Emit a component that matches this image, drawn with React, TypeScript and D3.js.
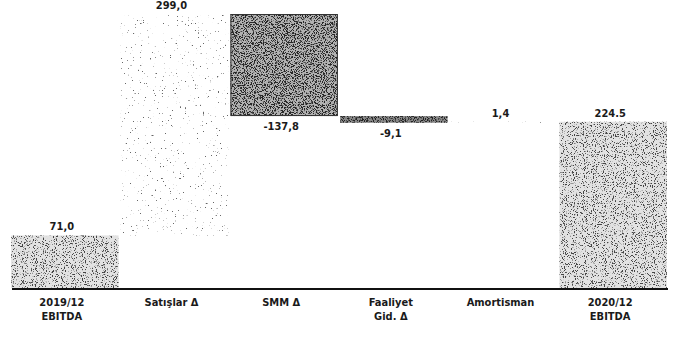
import React from "react";
import * as d3 from "d3";

const categoryLines: string[][] = [
  ["2019/12", "EBITDA"],
  ["Satışlar Δ"],
  ["SMM Δ"],
  ["Faaliyet", "Gid. Δ"],
  ["Amortisman"],
  ["2020/12", "EBITDA"],
];
const values: number[] = [71.0, 299.0, -137.8, -9.1, 1.4, 224.5];
const kinds: string[] = ["total", "delta", "delta", "delta", "delta", "total"];
const valueLabels: string[] = ["71,0", "299,0", "-137,8", "-9,1", "1,4", "224.5"];
const textures: string[] = ["mid", "sparse", "dark", "line", "sparse", "mid"];

const W = 685;
const H = 340;
const FONT = "'Liberation Sans Narrow', 'DejaVu Sans Condensed', 'Roboto', sans-serif";

function Speckle({ id, seed, base, dot, k, t, freq }: { id: string; seed: number; base: string; dot: string; k: number; t: number; freq: number }) {
  const c = d3.color(dot)!.rgb();
  const r = c.r / 255, g = c.g / 255, b = c.b / 255;
  return (
    <filter id={id} x="0" y="0" width="1" height="1" filterUnits="objectBoundingBox" colorInterpolationFilters="sRGB">
      <feFlood floodColor={base} result="base" />
      <feTurbulence type="fractalNoise" baseFrequency={freq} numOctaves={2} seed={seed} result="noise" />
      <feColorMatrix
        in="noise"
        type="matrix"
        values={`0 0 0 0 ${r}  0 0 0 0 ${g}  0 0 0 0 ${b}  ${k} 0 0 0 ${-k * t}`}
        result="dots"
      />
      <feMerge result="merged">
        <feMergeNode in="base" />
        <feMergeNode in="dots" />
      </feMerge>
      <feComposite in="merged" in2="SourceGraphic" operator="in" />
    </filter>
  );
}

export default function App() {
  const x = d3
    .scaleBand<number>()
    .domain(values.map((_, i) => i))
    .range([10, 668])
    .paddingInner(0.02)
    .paddingOuter(0.01);
  const y = d3.scaleLinear().domain([0, 370]).range([288, 14]);

  let run = 0;
  const bars = values.map((v, i) => {
    let start: number, end: number;
    if (kinds[i] === "total") {
      start = 0;
      end = v;
    } else {
      start = run;
      end = run + v;
    }
    run = end;
    return { i, v, start, end };
  });

  return (
    <svg width={W} height={H} style={{ display: "block", position: "absolute", left: 0, top: 0, background: "#fff" }}>
      <defs>
        <Speckle id="tex-mid" seed={4} base="#e2e2e2" dot="#444444" k={10} t={0.57} freq={0.9} />
        <Speckle id="tex-dark" seed={7} base="#b2b2b2" dot="#262626" k={10} t={0.5} freq={0.9} />
        <Speckle id="tex-sparse" seed={11} base="#ffffff" dot="#666666" k={14} t={0.72} freq={0.6} />
        <Speckle id="tex-line" seed={5} base="#888888" dot="#222222" k={10} t={0.5} freq={0.9} />
      </defs>
      <rect x={0} y={0} width={W} height={H} fill="#fff" />
      {bars.map((d) => {
        const top = y(Math.max(d.start, d.end));
        const bot = y(Math.min(d.start, d.end));
        return (
          <rect
            key={d.i}
            x={x(d.i)!}
            y={top}
            width={x.bandwidth()}
            height={Math.max(bot - top, 1)}
            fill="#999"
            filter={`url(#tex-${textures[d.i]})`}
          />
        );
      })}
      {bars
        .filter((d) => textures[d.i] === "dark")
        .map((d) => {
          const top = y(Math.max(d.start, d.end));
          const bot = y(Math.min(d.start, d.end));
          return (
            <rect
              key={`o${d.i}`}
              x={x(d.i)! + 0.5}
              y={top + 0.5}
              width={x.bandwidth() - 1}
              height={bot - top - 1}
              fill="none"
              stroke="#333"
              strokeWidth={1}
            />
          );
        })}
      <line x1={12} x2={668} y1={y(0) + 1} y2={y(0) + 1} stroke="#111" strokeWidth={2} />
      {bars.map((d) => {
        const cx = x(d.i)! + x.bandwidth() / 2 - 3;
        const neg = d.v < 0;
        const ty = neg ? y(d.end) + 14 : y(Math.max(d.start, d.end)) - 5;
        return (
          <text
            key={`v${d.i}`}
            x={cx}
            y={ty}
            textAnchor="middle"
            fontFamily={FONT}
            fontWeight="bold"
            fontSize={11}
            fill="#1a1a1a"
          >
            {valueLabels[d.i]}
          </text>
        );
      })}
      {categoryLines.map((lines, i) => {
        const cx = x(i)! + x.bandwidth() / 2 - 3;
        return (
          <text key={`c${i}`} textAnchor="middle" fontFamily={FONT} fontWeight="bold" fontSize={11} fill="#1a1a1a">
            {lines.map((ln, j) => (
              <tspan key={j} x={cx} y={306 + j * 14}>
                {ln}
              </tspan>
            ))}
          </text>
        );
      })}
    </svg>
  );
}
